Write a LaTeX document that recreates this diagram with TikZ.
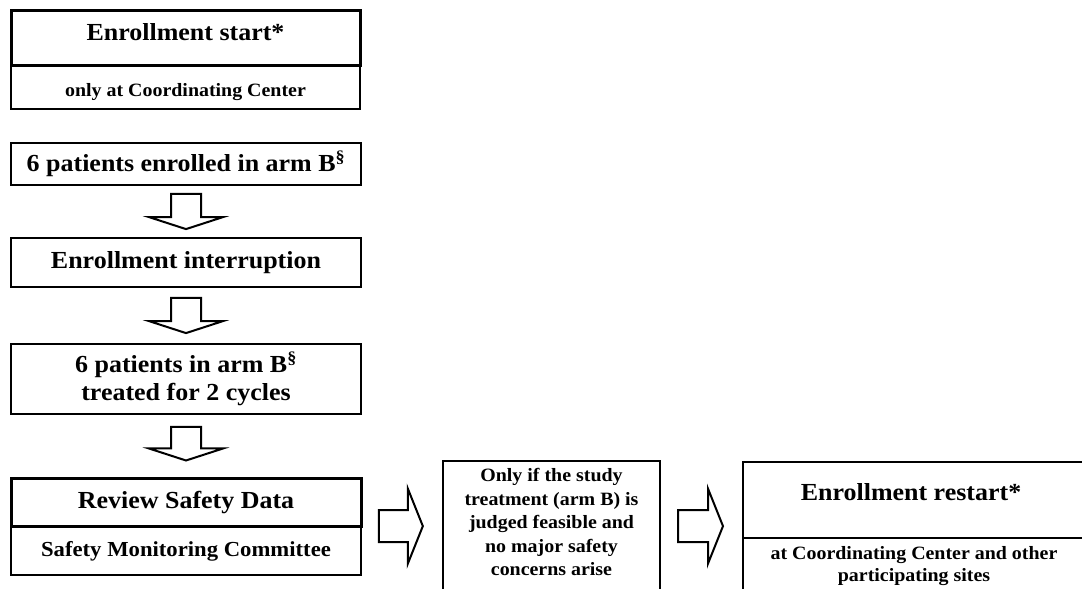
\documentclass[tikz,border=0pt]{standalone}
\usepackage{fontspec}
\setmainfont{Liberation Serif}[FakeStretch=1.06]
\usetikzlibrary{calc}

\tikzset{
  box/.style={draw, line width=1.8pt, fill=white, inner sep=0pt, align=center},
  thickbox/.style={box, line width=3pt},
  bigfont/.style={font=\fontsize{24.5}{26.5}\selectfont\bfseries, align=center},
  midfont/.style={font=\fontsize{21.4}{24}\selectfont\bfseries, align=center},
  smallfont/.style={font=\fontsize{18.8}{22.5}\selectfont\bfseries, align=center},
  plaintext/.style={inner sep=0pt, align=center},
  blockarrow/.style={draw, line width=2pt, fill=white, line join=miter},
}

% hollow downward block arrow from node #1 to node #2 (gaps #3, #4)
\newcommand\blockdown[4]{%
  \draw[blockarrow] let \p1=($(#1.south)+(0,-#3)$), \p2=($(#2.north)+(0,#4)$) in
    (\x1-15,\y1) -- (\x1+15,\y1) -- (\x1+15,\y2+12) -- (\x1+37,\y2+12)
    -- (\x2,\y2) -- (\x1-37,\y2+12) -- (\x1-15,\y2+12) -- cycle;}

% hollow rightward block arrow between two points (gaps #3, #4)
\newcommand\blockright[4]{%
  \draw[blockarrow] let \p1=#1, \p2=#2 in
    (\x1+#3,\y1+16) -- (\x2-#4-15,\y1+16) -- (\x2-#4-15,\y1+37.5)
    -- (\x2-#4,\y1) -- (\x2-#4-15,\y1-37.5) -- (\x2-#4-15,\y1-16)
    -- (\x1+#3,\y1-16) -- cycle;}

\begin{document}
\begin{tikzpicture}[x=1pt,y=1pt]
\useasboundingbox (0,0) rectangle (1082,589);
\clip (0,0) rectangle (1082,589);
\fill[white] (0,0) rectangle (1082,589);

% enrollment start
\node[box, minimum width=349, minimum height=43] (startsub) at (185.5,501.5) {};
\node[thickbox, minimum width=349, minimum height=55] (start) at (185.5,550.5) {};
\node[plaintext, bigfont] (starttext) at (185.5,557) {Enrollment start*};
\node[plaintext, smallfont] (startsubtext) at (185.5,497) {only at Coordinating Center};

% left column of steps
\node[box, bigfont, minimum width=350, minimum height=42] (enrolled) at (186,425)
  {6 patients enrolled in arm B\textsuperscript{\S}};
\node[box, bigfont, minimum width=350, minimum height=49] (interrupt) at (186,326.5)
  {Enrollment interruption};
\node[box, bigfont, minimum width=350, minimum height=70] (treated) at (186,210)
  {6 patients in arm B\textsuperscript{\S}\\[1pt]treated for 2 cycles};
\node[box, midfont, minimum width=350, minimum height=48] (reviewsub) at (186,38)
  {Safety Monitoring Committee};
\node[thickbox, bigfont, minimum width=350, minimum height=48] (review) at (186,86)
  {Review Safety Data};

% condition box
\node[box, line width=2.3pt, minimum width=217, minimum height=160, anchor=north] (cond) at (551.5,129) {};
\node[plaintext, smallfont, font=\fontsize{18.8}{23.5}\selectfont\bfseries] (condtext) at (551.5,67)
  {Only if the study\\treatment (arm B) is\\judged feasible and\\no major safety\\concerns arise};

% enrollment restart
\node[box, minimum width=360, minimum height=90, anchor=north west] (restartsub) at (742,52) {};
\node[box, minimum width=360, minimum height=76, anchor=north west] (restart) at (742,128) {};
\node[plaintext, bigfont] (restarttext) at (911,97) {Enrollment restart*};
\node[plaintext, smallfont, font=\fontsize{18.8}{22}\selectfont\bfseries] (restartsubtext) at (914,23)
  {at Coordinating Center and other\\participating sites};

% flow arrows
\blockdown{enrolled}{interrupt}{8}{8}
\blockdown{interrupt}{treated}{10}{10}
\blockdown{treated}{review}{12}{17}

\coordinate (rowmid) at (reviewsub.north);
\blockright{(reviewsub.east |- rowmid)}{(cond.west |- rowmid)}{17}{19}
\blockright{(cond.east |- rowmid)}{(restart.west |- rowmid)}{17}{19}
\end{tikzpicture}
\end{document}
